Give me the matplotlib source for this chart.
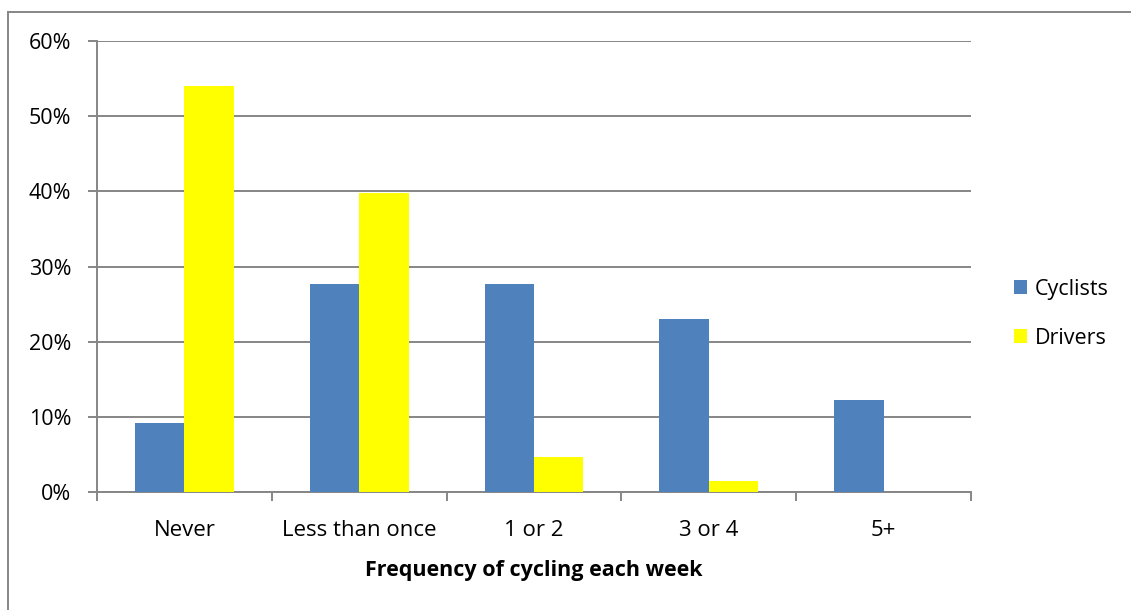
import matplotlib
matplotlib.use("Agg")
import matplotlib.pyplot as plt
from matplotlib.lines import Line2D
from matplotlib.patches import Patch
from matplotlib.ticker import PercentFormatter, FixedLocator
import numpy as np

categories = ["Never", "Less than once", "1 or 2", "3 or 4", "5+"]
cyclists = [9.2, 27.7, 27.7, 23.0, 12.2]
drivers = [54.0, 39.8, 4.7, 1.5, 0.0]

plt.rcParams['font.family'] = ['Open Sans', 'DejaVu Sans']

BLUE = "#4F81BD"
YELLOW = "#FFFF00"
GRAY = "#868686"
FS = 15.5

fig = plt.figure(figsize=(11.31, 6.10), dpi=100)
ax = fig.add_axes([0.0858, 0.1934, 0.7727, 0.7394])

x = np.arange(len(categories))
w = 0.283
ax.bar(x - w / 2, cyclists, width=w, color=BLUE, label="Cyclists", zorder=3)
ax.bar(x + w / 2, drivers, width=w, color=YELLOW, label="Drivers", zorder=3)

ax.set_xlim(-0.5, len(categories) - 0.5)
ax.set_ylim(0, 60)
ax.set_yticks(np.arange(0, 61, 10))
ax.yaxis.set_major_formatter(PercentFormatter(decimals=0))
ax.yaxis.grid(True, color=GRAY, linewidth=1.4, zorder=0)

ax.set_xticks(x)
ax.set_xticklabels(categories, fontsize=FS + 0.5)
ax.tick_params(axis='x', which='major', length=0, pad=20)
ax.xaxis.set_minor_locator(FixedLocator(np.arange(-0.5, len(categories), 1.0)))
ax.tick_params(axis='x', which='minor', length=6.5, width=1.4, color=GRAY)
ax.tick_params(axis='y', length=6.5, width=1.4, color=GRAY, labelsize=FS, pad=12)

for s in ["top", "right"]:
    ax.spines[s].set_visible(False)
for s in ["left", "bottom"]:
    ax.spines[s].set_color(GRAY)
    ax.spines[s].set_linewidth(1.4)

ax.set_xlabel("Frequency of cycling each week", fontsize=FS, fontweight="bold", labelpad=14)

handles = [Patch(facecolor=BLUE), Patch(facecolor=YELLOW)]
fig.legend(handles, ["Cyclists", "Drivers"], loc="center left",
           bbox_to_anchor=(0.887, 0.486), frameon=False, fontsize=FS, borderpad=0,
           handlelength=0.6, handleheight=0.6, handletextpad=0.35, labelspacing=1.3)

# outer chart border
fig.add_artist(Line2D([7.5 / 1131, 7.5 / 1131], [0, 1 - 11.5 / 610],
                      transform=fig.transFigure, color=GRAY, linewidth=1.4))
fig.add_artist(Line2D([7.5 / 1131, 1], [1 - 11.5 / 610, 1 - 11.5 / 610],
                      transform=fig.transFigure, color=GRAY, linewidth=1.4))

fig.savefig("out.png", dpi=100)
